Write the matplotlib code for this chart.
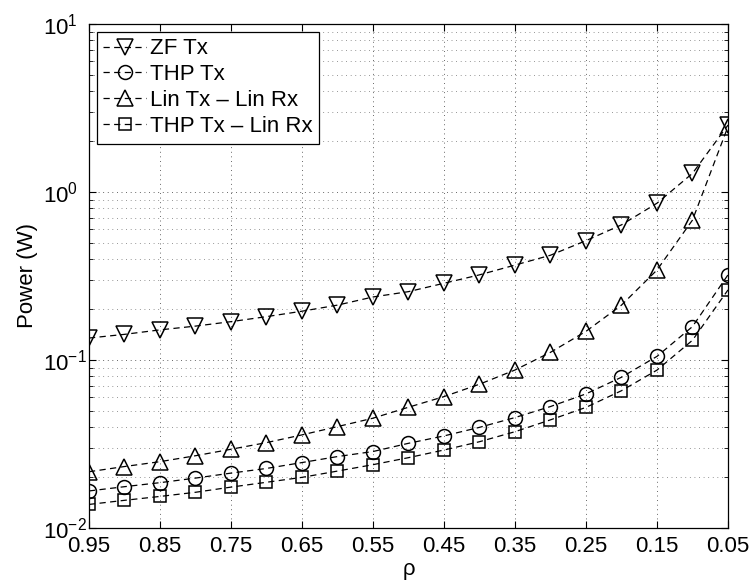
import numpy as np
import matplotlib
matplotlib.use("Agg")
import matplotlib.pyplot as plt
from matplotlib.ticker import FixedLocator, LogLocator, NullFormatter

plt.rcParams["font.family"] = ["Liberation Sans", "DejaVu Sans"]
plt.rcParams["mathtext.fontset"] = "custom"
plt.rcParams["mathtext.rm"] = "Liberation Sans"
plt.rcParams["mathtext.it"] = "Liberation Sans:italic"

# rho values (x axis, plotted reversed)
rho = [0.95, 0.90, 0.85, 0.80, 0.75, 0.70, 0.65, 0.60, 0.55, 0.50,
       0.45, 0.40, 0.35, 0.30, 0.25, 0.20, 0.15, 0.10, 0.05]

zf_tx = [0.135, 0.142, 0.151, 0.159, 0.169, 0.181, 0.195, 0.212, 0.237, 0.255,
         0.286, 0.321, 0.367, 0.42, 0.513, 0.637, 0.857, 1.29, 2.5]
thp_tx = [0.0166, 0.0176, 0.0186, 0.0198, 0.0212, 0.0226, 0.0245, 0.0266, 0.0285, 0.0319,
          0.0353, 0.0397, 0.0454, 0.0528, 0.0628, 0.0789, 0.105, 0.158, 0.321]
lin_lin = [0.0216, 0.0232, 0.0248, 0.0269, 0.0294, 0.0322, 0.0358, 0.0401, 0.045, 0.0523,
           0.0605, 0.0717, 0.0871, 0.111, 0.148, 0.212, 0.343, 0.68, 2.45]
thp_lin = [0.0138, 0.0146, 0.0154, 0.0163, 0.0175, 0.0187, 0.0200, 0.0218, 0.0238, 0.0262,
           0.0291, 0.0326, 0.0374, 0.044, 0.0522, 0.0656, 0.087, 0.131, 0.261]

labels = ["ZF Tx", "THP Tx", "Lin Tx \u2013 Lin Rx", "THP Tx \u2013 Lin Rx"]
xticks = [0.95, 0.85, 0.75, 0.65, 0.55, 0.45, 0.35, 0.25, 0.15, 0.05]

FS = 16

fig = plt.figure(figsize=(7.54, 5.84), dpi=100)
ax = fig.add_axes([0.118, 0.096, 0.8475, 0.863])

series = [(zf_tx, "v", 12), (thp_tx, "o", 10), (lin_lin, "^", 12), (thp_lin, "s", 9)]
for (vals, mk, ms), lab in zip(series, labels):
    ax.semilogy(rho, vals, color="black", linestyle="--", dashes=(5, 3.5), linewidth=0.9,
                marker=mk, markersize=ms, markerfacecolor="none",
                markeredgecolor="black", markeredgewidth=1.1, label=lab)

ax.set_xlim(0.95, 0.05)
ax.set_ylim(1e-2, 1e1)
ax.xaxis.set_major_locator(FixedLocator(xticks))
ax.set_xticklabels([f"{t:.2f}" for t in xticks])
ax.yaxis.set_major_locator(LogLocator(base=10, numticks=10))
ax.yaxis.set_minor_locator(LogLocator(base=10, subs=np.arange(2, 10), numticks=20))
ax.yaxis.set_minor_formatter(NullFormatter())

ax.tick_params(which="both", direction="in", top=True, right=True, labelsize=FS)
ax.tick_params(which="major", length=5, width=0.8)
ax.tick_params(which="minor", length=3, width=0.6)
ax.tick_params(axis="x", pad=6)
# MATLAB-style: exponent labels start at a common left edge
ax.tick_params(axis="y", pad=33)
for t in ax.get_yticklabels():
    t.set_horizontalalignment("left")
for s in ax.spines.values():
    s.set_linewidth(0.9)

ax.grid(True, which="major", linestyle=(0, (1, 4.5)), color="0.2", linewidth=0.6)
ax.grid(True, which="minor", axis="y", linestyle=(0, (1, 4.5)), color="0.45", linewidth=0.6)

ax.set_xlabel("\u03c1", fontsize=FS, labelpad=1)
ax.set_ylabel("Power (W)", fontsize=FS, labelpad=4)

leg = ax.legend(loc="upper left", fontsize=FS, handlelength=1.9, handletextpad=0.2,
                borderaxespad=0.35, borderpad=0.3, labelspacing=0.22,
                fancybox=False, framealpha=1, edgecolor="black")
leg.get_frame().set_linewidth(0.9)

fig.savefig("out.png", dpi=100)
